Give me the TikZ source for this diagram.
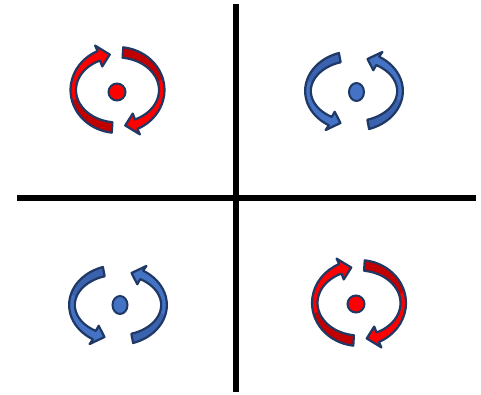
\documentclass[tikz,border=0pt]{standalone}
\usepackage{tikz}
\usepackage{xcolor}
\definecolor{redc}{HTML}{FF0000}
\definecolor{reddk}{HTML}{C00000}
\definecolor{bluec}{HTML}{4472C4}
\definecolor{bluedk}{HTML}{3A62AE}
\definecolor{edgec}{HTML}{1F3864}
\tikzset{
  axis/.style={draw=black, line width=5.5pt},
  curlline/.style={draw=edgec, line width=2.2pt, line join=round},
  dotline/.style={draw=edgec, line width=2pt},
  pics/curl/.style n args={5}{code={
    \fill[#4] (#1:47 and 43) arc[start angle=#1, end angle=#2, x radius=47, y radius=43] -- (#2:53 and 49) -- (#3:44.5 and 36) -- (#2:36 and 26) -- (#2:41.5 and 32.5) arc[start angle=#2, end angle=#1, x radius=41.5, y radius=32.5] -- cycle;
    \fill[#5] (#1:47 and 43) arc[start angle=#1, end angle=195, x radius=47, y radius=43] -- (195:41.5 and 32.5) arc[start angle=195, end angle=#1, x radius=41.5, y radius=32.5] -- cycle;
    \draw[curlline] (#1:47 and 43) arc[start angle=#1, end angle=#2, x radius=47, y radius=43] -- (#2:53 and 49) -- (#3:44.5 and 36) -- (#2:36 and 26) -- (#2:41.5 and 32.5) arc[start angle=#2, end angle=#1, x radius=41.5, y radius=32.5] -- cycle;
  }},
}

\begin{document}
\begin{tikzpicture}[x=1pt, y=1pt]
\useasboundingbox (0,0) rectangle (481,394);
% axes
\coordinate (west) at (17,196);
\coordinate (east) at (476,196);
\coordinate (north) at (236,390);
\coordinate (south) at (236,2);
\draw[axis] (west) -- (east);
\draw[axis] (south) -- (north);
% top left, red
\pic at (117.5,304) {curl={263}{115}{100}{redc}{reddk}};
\pic[rotate=180] at (117.5,304) {curl={263}{115}{100}{redc}{reddk}};
\filldraw[fill=redc, dotline] (117,302) circle (8.5);
% top right, blue
\pic[xscale=1.04, yscale=-0.93] at (354,303) {curl={252}{121}{107}{bluec}{bluedk}};
\pic[xscale=-1.04, yscale=0.93] at (354,303) {curl={252}{121}{107}{bluec}{bluedk}};
\filldraw[fill=bluec, dotline] (356.5,302) ellipse [x radius=7.5, y radius=9];
% bottom left, blue
\pic[xscale=1.04, yscale=-0.93] at (118,89) {curl={252}{121}{107}{bluec}{bluedk}};
\pic[xscale=-1.04, yscale=0.93] at (118,89) {curl={252}{121}{107}{bluec}{bluedk}};
\filldraw[fill=bluec, dotline] (120,89) ellipse [x radius=7.5, y radius=9];
% bottom right, red
\pic at (359,91) {curl={263}{115}{100}{redc}{reddk}};
\pic[rotate=180] at (359,91) {curl={263}{115}{100}{redc}{reddk}};
\filldraw[fill=redc, dotline] (356,90) circle (8.5);
\end{tikzpicture}
\end{document}
